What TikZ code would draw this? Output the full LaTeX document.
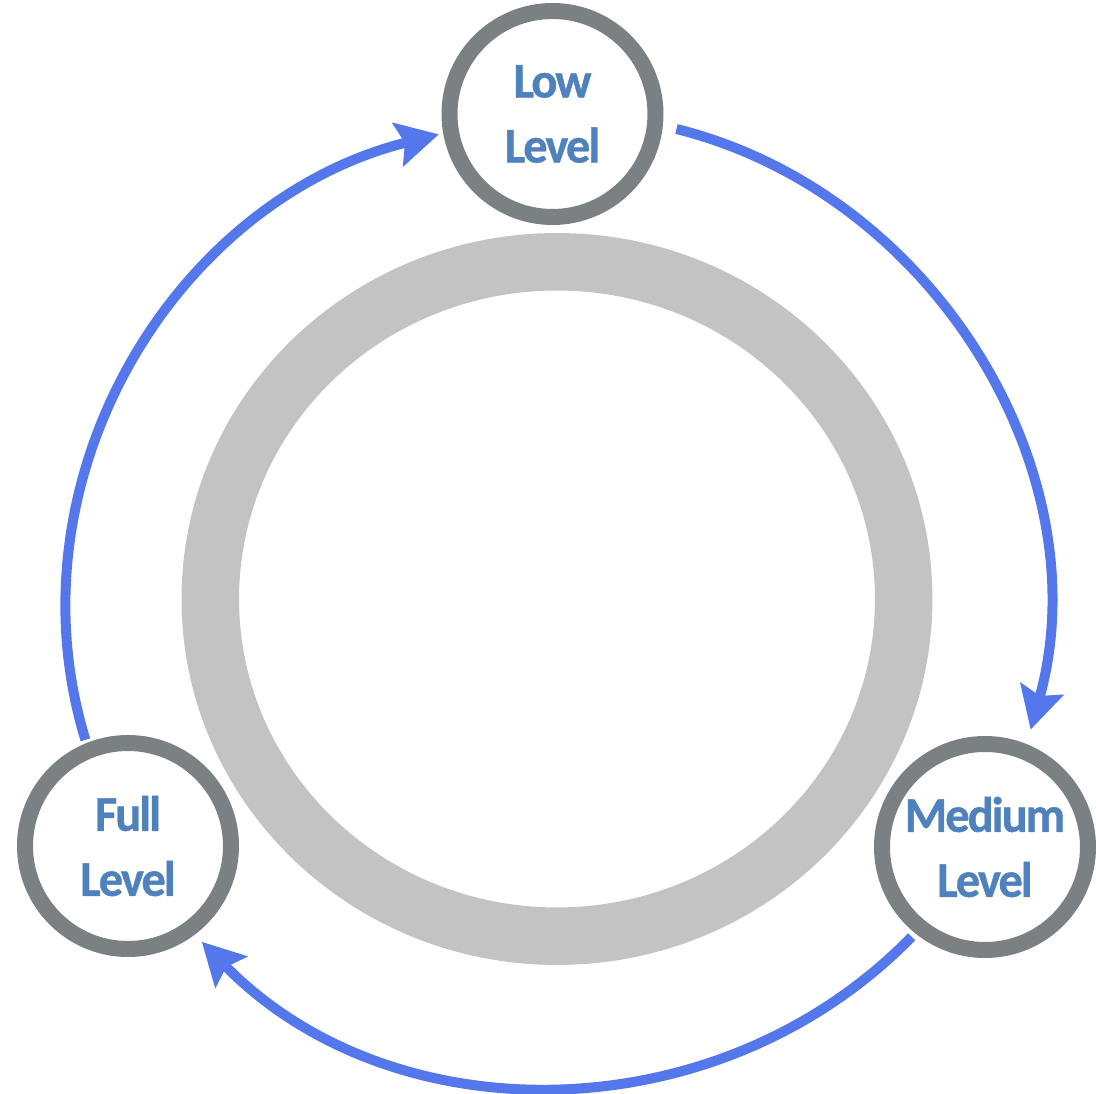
\documentclass[tikz,border=0pt]{standalone}
\usepackage{fontspec}
\newfontfamily\lvlfont{Carlito}[FakeStretch=0.97, LetterSpace=-4, BoldFont={Carlito Bold}, BoldFeatures={FakeBold=0.8}]
\usetikzlibrary{arrows.meta}

\definecolor{ringgray}{HTML}{7B8083}
\definecolor{trackgray}{HTML}{C4C3C4}
\definecolor{flowblue}{HTML}{5477EB}
\definecolor{lvlblue}{HTML}{4F81BD}

\tikzset{
  lvlnode/.style={circle, draw=ringgray, line width=16pt, minimum size=206pt, inner sep=0pt,
    align=center, text=lvlblue, font=\lvlfont\bfseries\fontsize{50}{65}\selectfont},
  flow/.style={draw=flowblue, line width=10pt, -{Stealth[length=42pt, width=44pt, inset=7pt]}},
  track/.style={draw=trackgray, line width=57.5pt}
}

\begin{document}
\begin{tikzpicture}[x=1pt, y=1pt]
        \useasboundingbox (-557,-495) rectangle (539,599);
        \draw[track] (0,0) ellipse [x radius=346.7, y radius=337.2];
        \node[lvlnode] (low) at (-4.5,485) {Low\\Level};
        \node[lvlnode] (medium) at (428,-248) {Medium\\Level};
        \node[lvlnode] (full) at (-429,-247) {Full\\Level};
        \draw[flow, shorten <=14pt, shorten >=15pt] (low.-6.4) to[out=-14, in=74.4] (medium.68);
        \draw[flow, shorten <=5pt, shorten >=10pt] (medium.231.6) to[out=-134.3, in=-45.7] (full.-53.4);
        \draw[flow, shorten <=3.4pt, shorten >=4.4pt] (full.112.1) to[out=107, in=194] (low.190.5);
\end{tikzpicture}
\end{document}
